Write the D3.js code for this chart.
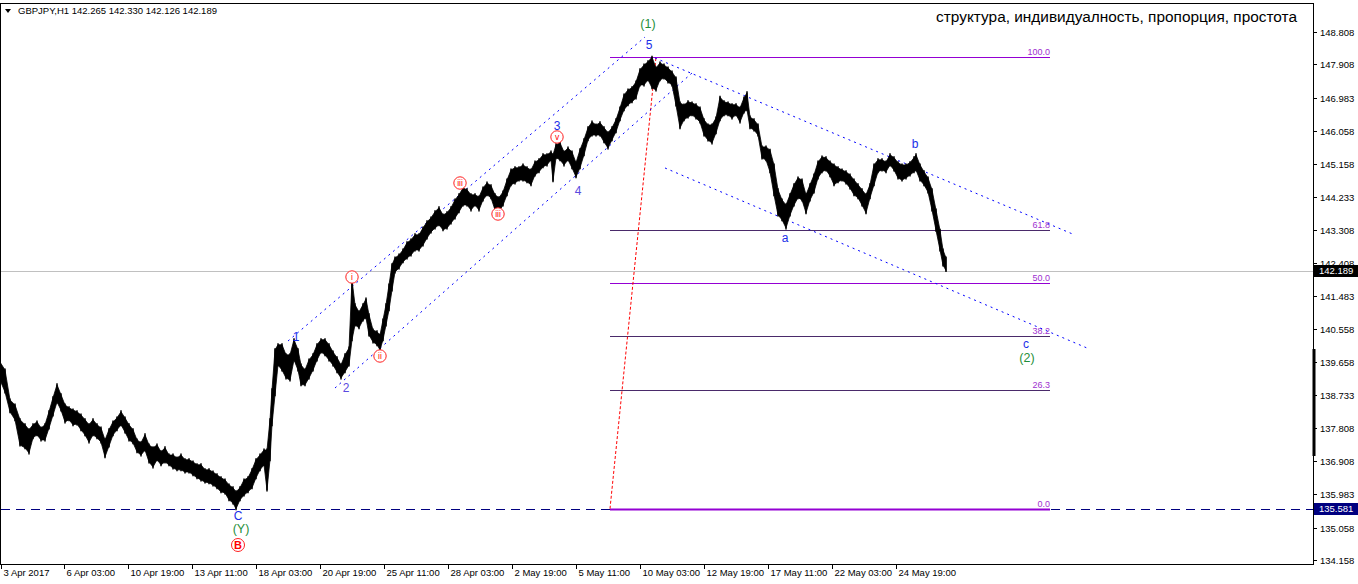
<!DOCTYPE html>
<html><head><meta charset="utf-8">
<script src="https://cdn.jsdelivr.net/npm/d3@7/dist/d3.min.js"></script>
<style>
html,body{margin:0;padding:0;background:#fff;}
svg{display:block;}
text{font-family:"Liberation Sans",Arial,sans-serif;}
</style></head>
<body>
<svg id="c" width="1358" height="584"></svg>
<script>
// ---- DATA ----
const symbolTitle = "GBPJPY,H1";
const ohlcLast = ["142.265","142.330","142.126","142.189"];
const headline = "структура, индивидуалность, пропорция, простота";

// bar index (hours on chart) with high / low prices
const barIdx = [0,5,10,15,20,25,29,33,37,41,45,49,53,57,61,65,69,73,77,81,85,89,93,97,101,105,109,113,117,121,125,129,133,137,141,145,149,153,157,161,165,169,173,177,181,185,189,193,197,201,205,209,213,217,221,225,229,233,236,240,244,248,252,256,260,264,267,270,272,275,278,282,286,290,294,298,301,305,309,313,317,321,325,329,333,337,341,345,349,352,355,359,363,366,369,373,377,380,383,386,389,392,395,399,403,407,411,415,419,423,427,431,435,439,443,447,451,455,459,463,467,471,475,479,483,487,491,495,499,503,507,511,515,519,523,527,531,535,539,543,547,551,553,556,560,564,568,572,576,580,584,588,592,596,600,604,608,612,616,620,624,628,632,636,640,644,648,652,656,660,664,668,672,676,680,684,688,692,696,700,704,708,712,716,720,724,728,732,736,740,744,747,750,754,758,762,766,770,774,778,782,786,790,794,798,802,806,810,814,818,822,826,830,834,838,842,846,850,854,858,862,866,870,874,878,882,886,890,894,898,902,906,910,914,916,920,924,928,932,936,940,943,946];
const highs = [139.65,139.43,138.60,138.46,138.05,137.91,137.77,137.91,137.99,137.82,137.91,138.27,138.66,139.02,138.74,138.46,138.38,138.32,138.27,138.18,138.05,137.91,138.05,137.91,137.82,137.49,137.77,137.99,138.10,138.27,138.10,137.91,137.77,137.49,137.41,137.63,137.35,137.27,137.35,137.16,137.27,137.07,137.07,136.99,137.07,136.94,136.94,136.88,136.80,136.80,136.66,136.66,136.60,136.52,136.44,136.38,136.24,136.16,136.05,136.16,136.38,136.44,136.66,136.94,137.07,137.21,137.21,138.05,138.88,139.99,140.13,140.13,139.85,139.85,140.27,139.99,139.57,139.43,139.71,139.85,140.13,140.27,140.27,140.13,139.93,139.77,139.57,139.85,140.04,141.93,141.24,141.04,141.24,141.40,140.96,140.54,140.49,140.40,140.82,141.24,141.79,142.35,142.54,142.62,142.76,142.96,143.04,143.18,143.18,143.37,143.54,143.65,143.82,143.93,143.73,143.79,143.93,144.15,144.29,144.48,144.43,144.29,144.29,144.23,144.48,144.62,144.54,144.29,144.21,144.37,144.70,144.98,145.04,145.04,145.12,145.04,144.98,145.20,145.26,145.40,145.40,145.48,145.40,145.68,145.73,145.48,145.59,145.48,145.18,145.54,145.82,146.15,146.31,146.23,146.29,146.15,146.01,146.15,146.37,146.70,147.06,147.20,147.26,147.42,147.76,147.89,147.98,148.11,147.81,147.95,147.89,147.81,147.70,147.53,146.84,146.78,146.87,146.84,146.79,146.70,146.37,146.23,146.23,146.42,147.00,146.87,146.84,146.79,146.79,146.70,146.98,147.12,146.45,146.37,146.23,145.62,145.62,145.53,145.12,144.43,144.15,144.01,144.29,144.57,144.76,144.70,144.29,144.57,144.84,145.20,145.34,145.32,145.20,145.12,145.04,144.98,144.93,144.84,144.70,144.57,144.43,144.29,144.57,145.12,145.26,145.26,145.20,145.40,145.32,145.18,145.12,145.12,145.18,145.32,145.40,145.12,144.93,144.76,144.43,143.87,143.31,142.76,142.54];
const lows  = [139.15,138.82,138.27,138.05,137.35,137.27,137.13,137.55,137.63,137.49,137.49,137.82,138.18,138.54,138.32,137.99,138.05,137.91,137.93,137.77,137.63,137.43,137.63,137.55,137.43,137.02,137.32,137.63,137.77,137.91,137.71,137.49,137.41,137.16,137.07,137.21,136.88,136.74,136.94,136.80,136.88,136.80,136.71,136.66,136.66,136.60,136.60,136.52,136.44,136.38,136.32,136.30,136.24,136.16,136.05,136.02,135.83,135.74,135.58,135.83,135.96,136.05,136.16,136.44,136.66,136.80,136.10,136.94,137.91,138.74,139.57,139.43,139.21,139.15,139.71,139.43,139.02,139.02,139.21,139.43,139.71,139.93,139.85,139.71,139.57,139.38,139.21,139.38,139.57,140.27,140.68,140.60,140.82,140.88,140.40,140.21,140.13,139.99,140.27,140.68,141.10,141.65,142.15,142.26,142.43,142.54,142.62,142.76,142.76,142.90,143.09,143.26,143.37,143.46,143.32,143.37,143.51,143.65,143.82,144.01,144.01,143.87,144.01,143.87,144.15,144.29,144.21,143.87,143.82,144.01,144.29,144.57,144.62,144.70,144.70,144.65,144.57,144.84,144.93,145.07,145.12,145.26,144.68,145.32,145.26,145.12,145.26,145.04,144.79,145.04,145.40,145.82,145.95,145.95,145.95,145.76,145.59,145.82,146.04,146.37,146.65,146.79,146.87,146.98,147.34,147.34,147.48,147.26,147.20,147.48,147.53,147.42,147.34,146.78,146.15,146.37,146.45,146.51,146.42,146.31,145.95,145.81,145.73,146.01,146.37,146.51,146.51,146.42,146.51,146.31,146.59,146.65,146.15,146.09,145.95,145.31,145.26,144.93,144.29,143.73,143.60,143.37,143.73,144.01,144.21,144.15,143.79,144.15,144.37,144.76,144.93,144.98,144.82,144.57,144.65,144.70,144.62,144.48,144.29,144.21,144.01,143.79,144.21,144.57,144.93,144.98,144.93,145.12,144.98,144.76,144.70,144.76,144.84,144.93,144.98,144.70,144.57,144.37,143.87,143.31,142.76,142.34,142.19];

const timeTickIdx = [1,64,128,192,256,320,384,448,512,576,640,704,768,832,896];
const timeTickLabels = ["3 Apr 2017","6 Apr 03:00","10 Apr 19:00","13 Apr 11:00","18 Apr 03:00","20 Apr 19:00","25 Apr 11:00","28 Apr 03:00","2 May 19:00","5 May 11:00","10 May 03:00","12 May 19:00","17 May 11:00","22 May 03:00","24 May 19:00"];
const priceTicks = [148.808,147.908,146.983,146.058,145.158,144.233,143.308,142.408,141.483,140.558,139.658,138.733,137.808,136.908,135.983,135.058,134.158];

const currentPrice = 142.189;
const supportPrice = 135.581;
const fibHigh = 148.114, fibLow = 135.581;
const fibStart = 610, fibEnd = 1050;
const fibLevels = [100.0, 61.8, 50.0, 38.2, 26.3, 0.0];
const fibLabels = ["100.0","61.8","50.0","38.2","26.3","0.0"];

// trend lines: [bar1, price1, bar2, price2]
const channelLines = [
  [288,140.234,645,148.669],
  [335,138.930,692,147.670],
  [655,148.087,1075,143.175],
  [665,145.035,1087,140.040]
];
const fibTrend = [610,135.581,656,148.114];

// wave labels: text, bar, price, colour
const waveLabels = [
  ["(1)",648,149.030,"g"],["5",649,148.447,"b"],["3",557,146.200,"b"],["4",578,144.396,"p"],
  ["1",296,140.345,"b"],["2",346,138.930,"p"],["a",785,143.092,"b"],["b",915,145.700,"b"],
  ["c",1026,140.151,"b"],["(2)",1027,139.790,"g"],["C",238,135.380,"b"],["(Y)",241,135.020,"g"]
];
const circleLabels = [
  ["B",238,134.574,true],["i",352,142.010,false],["ii",380,139.818,false],
  ["iii",460,144.618,false],["iii",498,143.758,false],["v",557,145.895,false]
];

// ---- CHART ----
const svg = d3.select("#c");
const plotR = 1313, plotT = 3, plotB = 564;
const x = d3.scaleLinear().domain([0,1313]).range([0,1313]);
const y = d3.scaleLinear().domain([134.158,148.808]).range([560,32]);

// frame
svg.append("rect").attr("x",0.5).attr("y",plotT+0.5).attr("width",plotR).attr("height",plotB-plotT)
  .attr("fill","none").attr("stroke","#000").attr("stroke-width",1);

// current price line
svg.append("line").attr("x1",1).attr("x2",plotR).attr("y1",Math.round(y(currentPrice))+0.5).attr("y2",Math.round(y(currentPrice))+0.5)
  .attr("stroke","#c0c0c0");
// support dashed line
svg.append("line").attr("x1",1).attr("x2",plotR).attr("y1",Math.round(y(supportPrice))+0.5).attr("y2",Math.round(y(supportPrice))+0.5)
  .attr("stroke","#000080").attr("stroke-dasharray","9,6");

// fib levels
const fibY = l => y(fibLow + (fibHigh-fibLow)*l/100);
fibLevels.forEach((l,i)=>{
  const yy = Math.round(fibY(l))+0.5;
  const bright = (l===100||l===50||l===0);
  svg.append("line").attr("x1",x(fibStart)).attr("x2",x(fibEnd)).attr("y1",yy).attr("y2",yy)
    .attr("stroke", bright? "#9400d3" : "#4a2a6a").attr("stroke-width", l===0?2:1);
  svg.append("text").attr("x",x(fibEnd)).attr("y",yy-3).attr("text-anchor","end")
    .attr("font-size","9px").attr("fill","#a030d0").text(fibLabels[i]);
});

// red dotted fib trend line
svg.append("line").attr("x1",x(fibTrend[0])).attr("y1",y(fibTrend[1])).attr("x2",x(fibTrend[2])).attr("y2",y(fibTrend[3]))
  .attr("stroke","#ff0000").attr("stroke-dasharray","3,2");

// channels
channelLines.forEach(c=>{
  svg.append("line").attr("x1",x(c[0])).attr("y1",y(c[1])).attr("x2",x(c[2])).attr("y2",y(c[3]))
    .attr("stroke","#0000ff").attr("stroke-dasharray","2,4");
});

// price bars
const data = barIdx.map((b,i)=>({i:b,hi:highs[i],lo:lows[i]}));
const area = d3.area().x(d=>x(d.i)).y0(d=>y(d.lo)).y1(d=>y(d.hi));
svg.append("path").datum(data).attr("d",area).attr("fill","#000").attr("stroke","#000").attr("stroke-width",0.8).attr("stroke-linejoin","miter");
svg.append("g").selectAll("line").data(data).join("line")
  .attr("x1",d=>x(d.i)).attr("x2",d=>x(d.i)).attr("y1",d=>y(d.hi)-1.5).attr("y2",d=>y(d.lo)+1.5)
  .attr("stroke","#000").attr("stroke-width",1.5);

// wave labels
const col = {b:"#1a2ee8",p:"#5a4ae0",g:"#1f8f3a"};
waveLabels.forEach(w=>{
  svg.append("text").attr("x",x(w[1])).attr("y",y(w[2])).attr("dy","0.36em").attr("text-anchor","middle")
    .attr("font-size", w[3]==="g"?"12.5px":"12px").attr("fill",col[w[3]]).text(w[0]);
});
circleLabels.forEach(c=>{
  const cx = x(c[1]), cy = y(c[2]);
  svg.append("circle").attr("cx",cx).attr("cy",cy).attr("r",c[3]?6.5:6.2).attr("fill","#fff").attr("stroke","#ff2020");
  svg.append("text").attr("x",cx).attr("y",cy).attr("dy","0.36em").attr("text-anchor","middle")
    .attr("font-size",c[3]?"11px":"8.5px").attr("font-weight",c[3]?"bold":"normal").attr("fill","#ff0000").text(c[0]);
});

// right axis
const ax = svg.append("g");
priceTicks.forEach(p=>{
  const yy = Math.round(y(p))+0.5;
  ax.append("line").attr("x1",plotR).attr("x2",plotR+4).attr("y1",yy).attr("y2",yy).attr("stroke","#000");
  ax.append("text").attr("x",plotR+7).attr("y",yy).attr("dy","0.35em").attr("font-size","9.5px").attr("fill","#000").text(p.toFixed(3));
});
// thick axis segment
ax.append("rect").attr("x",plotR-0.5).attr("y",349).attr("width",3).attr("height",107).attr("fill","#000");
// price boxes
[[currentPrice,"#000"],[supportPrice,"#000080"]].forEach(([p,c])=>{
  const yy = Math.round(y(p));
  ax.append("rect").attr("x",plotR+1).attr("y",yy-6).attr("width",44).attr("height",12).attr("fill",c);
  ax.append("text").attr("x",plotR+6).attr("y",yy).attr("dy","0.35em").attr("font-size","9.5px").attr("fill","#fff").text(p.toFixed(3));
});

// bottom axis
timeTickIdx.forEach((t,i)=>{
  const xx = Math.round(x(t))+0.5;
  svg.append("line").attr("x1",xx).attr("x2",xx).attr("y1",plotB).attr("y2",plotB+5).attr("stroke","#000");
  svg.append("text").attr("x",xx+2).attr("y",plotB+9).attr("dy","0.35em").attr("font-size","9.5px").attr("fill","#000").text(timeTickLabels[i]);
});

// header
svg.append("path").attr("d","M5,9 L11,9 L8,13 Z").attr("fill","#000");
svg.append("text").attr("x",18).attr("y",11).attr("dy","0.35em").attr("font-size","9.5px").attr("fill","#000")
  .text(symbolTitle + "  " + ohlcLast.join(" "));
svg.append("text").attr("x",1297).attr("y",17).attr("dy","0.35em").attr("text-anchor","end").attr("font-size","15.4px").attr("fill","#000").text(headline);
</script>
</body></html>
